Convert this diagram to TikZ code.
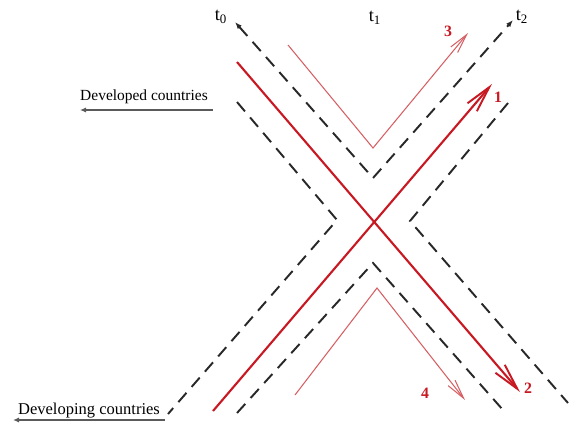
\documentclass[tikz,border=0pt]{standalone}
\usepackage{fontspec}
\setmainfont{Liberation Serif}
\usetikzlibrary{arrows.meta}
\definecolor{axisred}{RGB}{200,25,35}
\definecolor{pathred}{RGB}{214,95,100}
\definecolor{zonegray}{RGB}{40,40,40}
\definecolor{notegray}{RGB}{90,90,90}

\begin{document}
\begin{tikzpicture}[x=0.02cm,y=-0.02cm,>=Latex,
  zoneline/.style={zonegray,line width=1.1pt,dash pattern=on 7pt off 4.5pt},
  trendline/.style={axisred,line width=1.2pt,-{Straight Barb[length=15pt,width=7pt,line width=1.1pt]}},
  driftline/.style={pathred,line width=0.6pt,-{Straight Barb[length=11pt,width=5pt,line width=0.6pt]}},
  numlabel/.style={text=axisred,font=\bfseries\fontsize{9}{10}\selectfont,inner sep=1pt},
  timelabel/.style={font=\fontsize{10.5}{12}\selectfont,inner sep=1pt},
  grouparrow/.style={notegray,line width=0.7pt,{Latex[length=3.5pt,width=3pt]}-}]
  \useasboundingbox (0,0) rectangle (570,422);

  % time zones
  \coordinate (t0tip) at (235,22);
  \coordinate (topv) at (373,178);
  \coordinate (t2tip) at (513,20);
  \coordinate (lefttop) at (237,102);
  \coordinate (leftv) at (337,220);
  \coordinate (leftbot) at (168,414);
  \coordinate (righttop) at (508,103);
  \coordinate (rightv) at (410,221);
  \coordinate (rightbot) at (568,403);
  \coordinate (botleft) at (237,413);
  \coordinate (botv) at (373,263);
  \coordinate (botright) at (503,410);
  \draw[zoneline,{Latex[length=4pt,width=3pt]}-{Latex[length=4pt,width=3pt]}] (t0tip) -- (topv) -- (t2tip);
  \draw[zoneline] (lefttop) -- (leftv) -- (leftbot);
  \draw[zoneline] (righttop) -- (rightv) -- (rightbot);
  \draw[zoneline] (botleft) -- (botv) -- (botright);

  \node[timelabel] (t0) at (221,17) {t\textsubscript{0}};
  \node[timelabel] (t1) at (375,18) {t\textsubscript{1}};
  \node[timelabel] (t2) at (522,17) {t\textsubscript{2}};

  % main trends
  \coordinate (r1s) at (213,411);
  \coordinate (r1e) at (492,84);
  \coordinate (r2s) at (237,62);
  \coordinate (r2e) at (520,392);
  \draw[trendline] (r1s) -- (r1e);
  \draw[trendline] (r2s) -- (r2e);

  % turning paths
  \coordinate (a3s) at (288,45);
  \coordinate (a3v) at (373,148);
  \coordinate (a3e) at (468,33);
  \coordinate (a4s) at (295,395);
  \coordinate (a4v) at (377,288);
  \coordinate (a4e) at (465,400);
  \draw[driftline] (a3s) -- (a3v) -- (a3e);
  \draw[driftline] (a4s) -- (a4v) -- (a4e);

  \node[numlabel] (n1) at (498,97) {1};
  \node[numlabel] (n2) at (528,388) {2};
  \node[numlabel] (n3) at (448,31) {3};
  \node[numlabel] (n4) at (425,393) {4};

  % country groups
  \coordinate (dvdl) at (80,110);
  \coordinate (dvdr) at (213,110);
  \coordinate (dvgl) at (13,420);
  \coordinate (dvgr) at (165,420);
  \draw[grouparrow] (dvdl) -- (dvdr);
  \draw[grouparrow] (dvgl) -- (dvgr);
  \node[font=\fontsize{8.8}{10}\selectfont,inner sep=1pt] (dvd) at (144,97) {Developed countries};
  \node[font=\fontsize{9.4}{11}\selectfont,inner sep=1pt] (dvg) at (89,411) {Developing countries};
\end{tikzpicture}
\end{document}
